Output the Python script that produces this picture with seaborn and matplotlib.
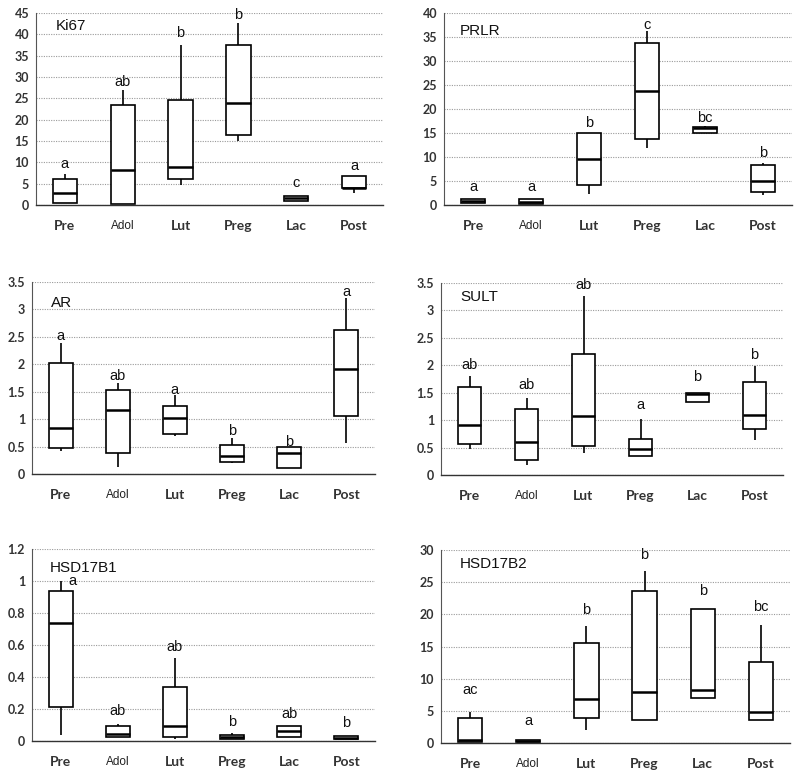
import numpy as np
import pandas as pd
import matplotlib
matplotlib.use("Agg")
import matplotlib.pyplot as plt
from matplotlib.ticker import MultipleLocator, FuncFormatter
import seaborn as sns

stages = ["Pre", "Adol", "Lut", "Preg", "Lac", "Post"]

# five-number summaries per stage: [low whisker, q1, median, q3, high whisker]
ki67 = [[0.5, 0.5, 2.9, 6.0, 7.3], [0.2, 0.2, 8.2, 23.4, 26.9], [4.7, 6.0, 9.0, 24.7, 37.6],
        [15.0, 16.5, 24.0, 37.4, 42.7], [1.0, 1.0, 1.6, 2.0, 2.0], [2.7, 3.9, 3.9, 6.9, 6.9]]
ki67_letters = ["a", "ab", "b", "b", "c", "a"]
ki67_letter_y = [9.5, 28.9, 40.2, 44.5, 5.1, 9.2]

prlr = [[0.35, 0.35, 0.8, 1.3, 1.3], [0.2, 0.2, 0.6, 1.2, 1.2], [2.3, 4.2, 9.6, 14.9, 15.0],
        [11.9, 13.7, 23.8, 33.8, 36.2], [14.9, 14.9, 16.1, 16.3, 16.4], [2.1, 2.8, 4.9, 8.4, 8.8]]
prlr_letters = ["a", "a", "b", "c", "bc", "b"]
prlr_letter_y = [3.8, 3.8, 17.1, 37.6, 18.2, 10.9]

ar = [[0.42, 0.48, 0.84, 2.03, 2.38], [0.13, 0.38, 1.16, 1.54, 1.65], [0.70, 0.73, 1.02, 1.24, 1.44],
      [0.20, 0.22, 0.32, 0.52, 0.65], [0.11, 0.11, 0.38, 0.49, 0.49], [0.56, 1.05, 1.92, 2.63, 3.21]]
ar_letters = ["a", "ab", "a", "b", "b", "a"]
ar_letter_y = [2.51, 1.79, 1.53, 0.79, 0.59, 3.32]

sult = [[0.47, 0.56, 0.92, 1.60, 1.80], [0.18, 0.27, 0.60, 1.20, 1.41], [0.41, 0.53, 1.07, 2.20, 3.26],
        [0.34, 0.34, 0.47, 0.65, 1.02], [1.33, 1.33, 1.47, 1.49, 1.49], [0.64, 0.84, 1.10, 1.69, 1.98]]
sult_letters = ["ab", "ab", "ab", "a", "b", "b"]
sult_letter_y = [2.01, 1.64, 3.47, 1.27, 1.79, 2.18]

hsd1 = [[0.04, 0.21, 0.74, 0.94, 1.0], [0.023, 0.023, 0.045, 0.094, 0.104], [0.015, 0.027, 0.094, 0.34, 0.52],
        [0.01, 0.013, 0.023, 0.035, 0.048], [0.023, 0.023, 0.065, 0.094, 0.094], [0.01, 0.01, 0.02, 0.033, 0.033]]
hsd1_letters = ["a", "ab", "ab", "b", "ab", "b"]
hsd1_letter_y = [1.0, 0.19, 0.59, 0.12, 0.17, 0.115]

hsd2 = [[0.15, 0.15, 0.5, 3.84, 4.83], [0.1, 0.1, 0.3, 0.47, 0.47], [1.97, 3.94, 6.9, 15.57, 18.2],
        [3.53, 3.53, 8.0, 23.7, 26.8], [6.95, 6.95, 8.2, 20.9, 20.9], [3.63, 3.63, 4.83, 12.6, 18.3]]
hsd2_letters = ["ac", "a", "b", "b", "b", "bc"]
hsd2_letter_y = [8.2, 3.4, 20.7, 29.3, 23.7, 21.1]

sns.set_style("white")
plt.rcParams['font.family'] = ['Liberation Sans', 'DejaVu Sans']

W, H = 800, 778
fig = plt.figure(figsize=(W / 100, H / 100), dpi=100)


def rect(l, r, t, b):
    return [l / W, 1 - b / H, (r - l) / W, (b - t) / H]


panels = [
    ("Ki67", ki67, ki67_letters, ki67_letter_y, 45, 5, rect(36, 383, 13, 205), (0.058, 0.93)),
    ("PRLR", prlr, prlr_letters, prlr_letter_y, 40, 5, rect(444, 792, 13, 205), (0.046, 0.906)),
    ("AR", ar, ar_letters, ar_letter_y, 3.5, 0.5, rect(32, 375, 282, 474), (0.055, 0.89)),
    ("SULT", sult, sult_letters, sult_letter_y, 3.5, 0.5, rect(441, 783, 283, 475), (0.056, 0.927)),
    ("HSD17B1", hsd1, hsd1_letters, hsd1_letter_y, 1.2, 0.2, rect(32, 375, 549, 741), (0.052, 0.90)),
    ("HSD17B2", hsd2, hsd2_letters, hsd2_letter_y, 30, 5, rect(441, 790, 550, 743), (0.054, 0.927)),
]

for name, stats, letters, letter_y, ymax, step, r, tpos in panels:
    ax = fig.add_axes(r)
    df = pd.DataFrame({"stage": np.repeat(stages, 5), "value": np.concatenate(stats)})
    sns.boxplot(data=df, x="stage", y="value", order=stages, whis=(0, 100), width=0.42,
                showcaps=False, showfliers=False, color="white", linecolor="black",
                linewidth=1.2, medianprops={"linewidth": 1.8}, ax=ax)
    ax.set_xlim(-0.5, 5.5)
    ax.set_ylim(0, ymax)
    ax.yaxis.set_major_locator(MultipleLocator(step))
    ax.yaxis.set_major_formatter(FuncFormatter(lambda v, p: f"{round(v, 2):g}"))
    ax.yaxis.grid(True, linestyle=(0, (1, 1.2)), color="#9a9a9a", linewidth=0.8)
    ax.set_axisbelow(True)
    ax.set_xlabel("")
    ax.set_ylabel("")
    for s in ["top", "right"]:
        ax.spines[s].set_visible(False)
    ax.spines["left"].set_color("#555555")
    ax.spines["left"].set_linewidth(0.8)
    ax.spines["bottom"].set_color("#333333")
    ax.spines["bottom"].set_linewidth(1.0)
    ax.set_xticks(np.arange(6))
    ax.set_xticks(np.arange(-0.5, 6, 1), minor=True)
    ax.tick_params(axis="x", which="major", length=0, pad=11)
    ax.tick_params(axis="x", which="minor", length=4, width=0.8, color="#333333", direction="out")
    ax.tick_params(axis="y", length=3, width=0.8, color="#555555", direction="out", pad=2)
    ax.set_xticklabels(stages)
    for lab in ax.get_xticklabels():
        if lab.get_text() == "Adol":
            lab.set_fontfamily("Liberation Sans")
            lab.set_fontsize(8.5)
            lab.set_color("#222222")
        else:
            lab.set_fontfamily("Lato")
            lab.set_fontweight("bold")
            lab.set_fontsize(10)
            lab.set_color("#333333")
    for lab in ax.get_yticklabels():
        lab.set_fontfamily("Lato")
        lab.set_fontweight("bold")
        lab.set_fontsize(9)
        lab.set_color("#333333")
    for i, (lt, ly) in enumerate(zip(letters, letter_y)):
        dx = 0.2 if (name == "HSD17B1" and i == 0) else 0
        ax.text(i + dx, ly, lt, ha="center", va="center", fontsize=10.5, color="#111111")
    ax.text(tpos[0], tpos[1], name, transform=ax.transAxes, ha="left", va="center",
            fontsize=11, color="#111111")

fig.savefig("out.png", dpi=100)
